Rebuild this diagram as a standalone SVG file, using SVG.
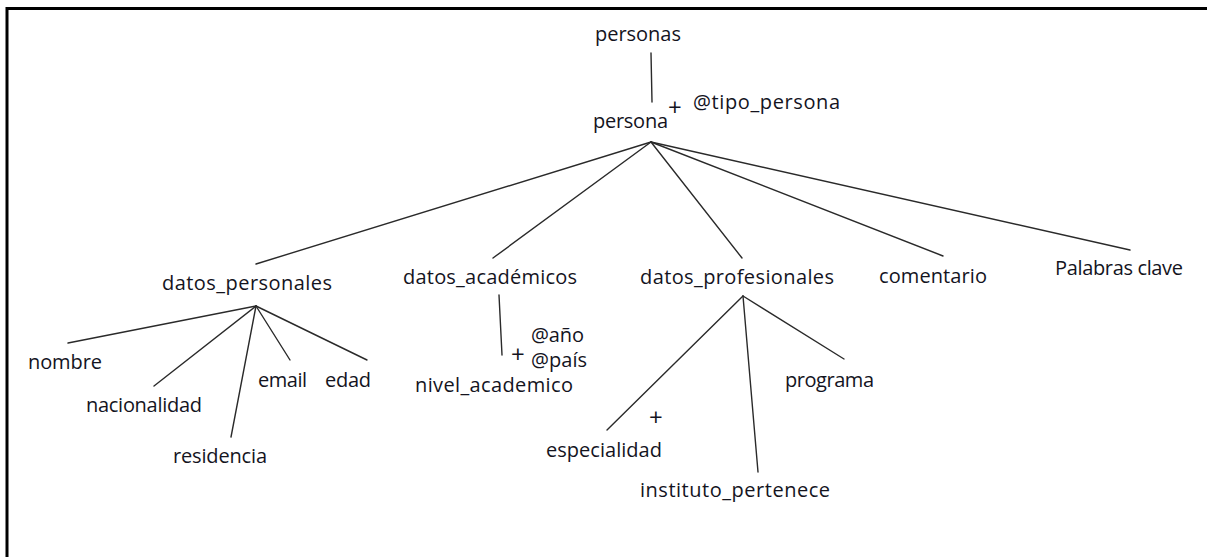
<svg xmlns="http://www.w3.org/2000/svg" width="1207" height="557" viewBox="0 0 1207 557">
  <style>
    .lbl { font-family: "Open Sans", "Liberation Sans", sans-serif; font-size: 20px; fill: #14141e; }
    .plus { font-family: "Open Sans", "Liberation Sans", sans-serif; font-size: 24px; fill: #14141e; }
    .edge { stroke: #2a2a2a; stroke-width: 1.4; fill: none; stroke-linecap: round; }
    .frame { stroke: #000; stroke-width: 3; fill: none; }
  </style>

  <rect width="1207" height="557" fill="#fff"/>

  <!-- frame: top and left rule -->
  <path class="frame" d="M7 557 V8.5 H1207"/>

  <!-- connectors -->
  <g id="connectors">
    <line class="edge" x1="651" y1="53" x2="652" y2="102"/>
    <line class="edge" x1="651" y1="142" x2="256" y2="264"/>
    <line class="edge" x1="651" y1="142" x2="493" y2="258"/>
    <line class="edge" x1="651" y1="142" x2="742" y2="258"/>
    <line class="edge" x1="651" y1="142" x2="943" y2="256"/>
    <line class="edge" x1="651" y1="142" x2="1130" y2="250"/>

    <line class="edge" x1="256" y1="306" x2="68" y2="343"/>
    <line class="edge" x1="256" y1="306" x2="154" y2="386"/>
    <line class="edge" x1="256" y1="306" x2="231" y2="437"/>
    <line class="edge" x1="256" y1="306" x2="290" y2="360"/>
    <line class="edge" x1="256" y1="306" x2="367" y2="360"/>

    <line class="edge" x1="499" y1="295" x2="502" y2="355"/>

    <line class="edge" x1="743" y1="296" x2="607" y2="430"/>
    <line class="edge" x1="743" y1="296" x2="758" y2="472"/>
    <line class="edge" x1="743" y1="296" x2="844" y2="359"/>
  </g>

  <g id="personas"><text class="lbl" x="595" y="41" textLength="86">personas</text></g>

  <g id="persona">
    <text class="lbl" x="593" y="128" textLength="75">persona</text>
    <text class="plus" x="668" y="116">+</text>
    <text class="lbl" x="693" y="109" textLength="147">@tipo_persona</text>
  </g>

  <g id="datos_personales"><text class="lbl" x="162" y="290" textLength="170">datos_personales</text></g>
  <g id="datos_academicos"><text class="lbl" x="403" y="284" textLength="174">datos_académicos</text></g>
  <g id="datos_profesionales"><text class="lbl" x="640" y="284" textLength="194">datos_profesionales</text></g>
  <g id="comentario"><text class="lbl" x="879" y="283" textLength="108">comentario</text></g>
  <g id="palabras_clave"><text class="lbl" x="1055" y="275" textLength="128">Palabras clave</text></g>

  <g id="nombre"><text class="lbl" x="28" y="369" textLength="74">nombre</text></g>
  <g id="nacionalidad"><text class="lbl" x="86" y="412" textLength="116">nacionalidad</text></g>
  <g id="residencia"><text class="lbl" x="173" y="463" textLength="94">residencia</text></g>
  <g id="email"><text class="lbl" x="258" y="387" textLength="49">email</text></g>
  <g id="edad"><text class="lbl" x="325" y="387" textLength="46">edad</text></g>

  <g id="nivel_academico">
    <text class="lbl" x="531" y="342" textLength="53">@año</text>
    <text class="plus" x="511" y="363">+</text>
    <text class="lbl" x="531" y="367" textLength="56">@país</text>
    <text class="lbl" x="415" y="392" textLength="158">nivel_academico</text>
  </g>

  <g id="especialidad">
    <text class="plus" x="649" y="426">+</text>
    <text class="lbl" x="546" y="457" textLength="116">especialidad</text>
  </g>
  <g id="instituto_pertenece"><text class="lbl" x="640" y="497" textLength="190">instituto_pertenece</text></g>
  <g id="programa"><text class="lbl" x="785" y="387" textLength="89">programa</text></g>
</svg>
